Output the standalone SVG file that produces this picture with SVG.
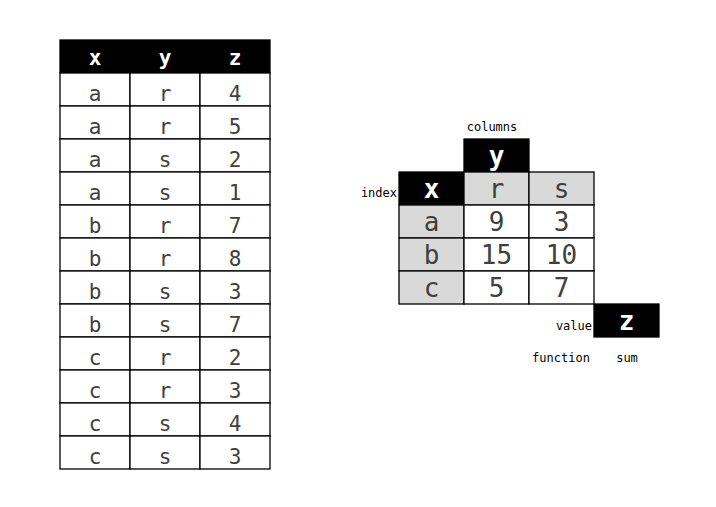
<svg xmlns="http://www.w3.org/2000/svg" width="716" height="507" viewBox="0 0 716 507">
<style>
.c{fill:#fff;stroke:#000;stroke-width:1.3}
.g{fill:#d9d9d9;stroke:#000;stroke-width:1.3}
.h{fill:#000;stroke:#000;stroke-width:1.3}
.t{font-family:"DejaVu Sans Mono",monospace;font-size:21px;fill:#404040;text-anchor:middle}
.th{font-family:"DejaVu Sans Mono",monospace;font-size:21px;font-weight:bold;fill:#fff;text-anchor:middle}
.T{font-family:"DejaVu Sans Mono",monospace;font-size:26px;fill:#404040;text-anchor:middle}
.TH{font-family:"DejaVu Sans Mono",monospace;font-size:26px;font-weight:bold;fill:#fff;text-anchor:middle}
.l{font-family:"DejaVu Sans Mono",monospace;font-size:12px;fill:#000}
</style>
<rect width="716" height="507" fill="#fff"/>
<g id="long-table">
<rect class="h" x="60" y="40" width="210" height="33"/>
<text class="th" x="95" y="65">x</text><text class="th" x="165" y="65">y</text><text class="th" x="235" y="65">z</text>
<g id="rows">
<rect class="c" x="60" y="73" width="70" height="33"/><rect class="c" x="130" y="73" width="70" height="33"/><rect class="c" x="200" y="73" width="70" height="33"/>
<rect class="c" x="60" y="106" width="70" height="33"/><rect class="c" x="130" y="106" width="70" height="33"/><rect class="c" x="200" y="106" width="70" height="33"/>
<rect class="c" x="60" y="139" width="70" height="33"/><rect class="c" x="130" y="139" width="70" height="33"/><rect class="c" x="200" y="139" width="70" height="33"/>
<rect class="c" x="60" y="172" width="70" height="33"/><rect class="c" x="130" y="172" width="70" height="33"/><rect class="c" x="200" y="172" width="70" height="33"/>
<rect class="c" x="60" y="205" width="70" height="33"/><rect class="c" x="130" y="205" width="70" height="33"/><rect class="c" x="200" y="205" width="70" height="33"/>
<rect class="c" x="60" y="238" width="70" height="33"/><rect class="c" x="130" y="238" width="70" height="33"/><rect class="c" x="200" y="238" width="70" height="33"/>
<rect class="c" x="60" y="271" width="70" height="33"/><rect class="c" x="130" y="271" width="70" height="33"/><rect class="c" x="200" y="271" width="70" height="33"/>
<rect class="c" x="60" y="304" width="70" height="33"/><rect class="c" x="130" y="304" width="70" height="33"/><rect class="c" x="200" y="304" width="70" height="33"/>
<rect class="c" x="60" y="337" width="70" height="33"/><rect class="c" x="130" y="337" width="70" height="33"/><rect class="c" x="200" y="337" width="70" height="33"/>
<rect class="c" x="60" y="370" width="70" height="33"/><rect class="c" x="130" y="370" width="70" height="33"/><rect class="c" x="200" y="370" width="70" height="33"/>
<rect class="c" x="60" y="403" width="70" height="33"/><rect class="c" x="130" y="403" width="70" height="33"/><rect class="c" x="200" y="403" width="70" height="33"/>
<rect class="c" x="60" y="436" width="70" height="33"/><rect class="c" x="130" y="436" width="70" height="33"/><rect class="c" x="200" y="436" width="70" height="33"/>
</g>
<g id="row-text">
<text class="t" x="95" y="101">a</text><text class="t" x="165" y="101">r</text><text class="t" x="235" y="101">4</text>
<text class="t" x="95" y="134">a</text><text class="t" x="165" y="134">r</text><text class="t" x="235" y="134">5</text>
<text class="t" x="95" y="167">a</text><text class="t" x="165" y="167">s</text><text class="t" x="235" y="167">2</text>
<text class="t" x="95" y="200">a</text><text class="t" x="165" y="200">s</text><text class="t" x="235" y="200">1</text>
<text class="t" x="95" y="233">b</text><text class="t" x="165" y="233">r</text><text class="t" x="235" y="233">7</text>
<text class="t" x="95" y="266">b</text><text class="t" x="165" y="266">r</text><text class="t" x="235" y="266">8</text>
<text class="t" x="95" y="299">b</text><text class="t" x="165" y="299">s</text><text class="t" x="235" y="299">3</text>
<text class="t" x="95" y="332">b</text><text class="t" x="165" y="332">s</text><text class="t" x="235" y="332">7</text>
<text class="t" x="95" y="365">c</text><text class="t" x="165" y="365">r</text><text class="t" x="235" y="365">2</text>
<text class="t" x="95" y="398">c</text><text class="t" x="165" y="398">r</text><text class="t" x="235" y="398">3</text>
<text class="t" x="95" y="431">c</text><text class="t" x="165" y="431">s</text><text class="t" x="235" y="431">4</text>
<text class="t" x="95" y="464">c</text><text class="t" x="165" y="464">s</text><text class="t" x="235" y="464">3</text>
</g>
</g>
<g id="pivot-table">
<text class="l" x="492" y="131" text-anchor="middle">columns</text>
<rect class="h" x="464" y="139" width="65" height="33"/>
<text class="TH" x="496.5" y="165">y</text>
<text class="l" x="397" y="197" text-anchor="end">index</text>
<rect class="h" x="399" y="172" width="65" height="33"/>
<text class="TH" x="431.5" y="198">x</text>
<rect class="g" x="464" y="172" width="65" height="33"/>
<rect class="g" x="529" y="172" width="65" height="33"/>
<text class="T" x="496.5" y="198">r</text><text class="T" x="561.5" y="198">s</text>
<rect class="g" x="399" y="205" width="65" height="33"/><rect class="c" x="464" y="205" width="65" height="33"/><rect class="c" x="529" y="205" width="65" height="33"/>
<rect class="g" x="399" y="238" width="65" height="33"/><rect class="c" x="464" y="238" width="65" height="33"/><rect class="c" x="529" y="238" width="65" height="33"/>
<rect class="g" x="399" y="271" width="65" height="33"/><rect class="c" x="464" y="271" width="65" height="33"/><rect class="c" x="529" y="271" width="65" height="33"/>
<text class="T" x="431.5" y="231">a</text><text class="T" x="496.5" y="231">9</text><text class="T" x="561.5" y="231">3</text>
<text class="T" x="431.5" y="264">b</text><text class="T" x="496.5" y="264">15</text><text class="T" x="561.5" y="264">10</text>
<text class="T" x="431.5" y="297">c</text><text class="T" x="496.5" y="297">5</text><text class="T" x="561.5" y="297">7</text>
</g>
<g id="value">
<text class="l" x="592" y="330" text-anchor="end">value</text>
<rect class="h" x="594" y="304" width="65" height="33"/>
<text class="TH" x="626.5" y="330">z</text>
</g>
<g id="function">
<text class="l" x="561" y="362" text-anchor="middle">function</text>
<text class="l" x="627" y="362" text-anchor="middle">sum</text>
</g>
<g id="connectors"/>
</svg>
